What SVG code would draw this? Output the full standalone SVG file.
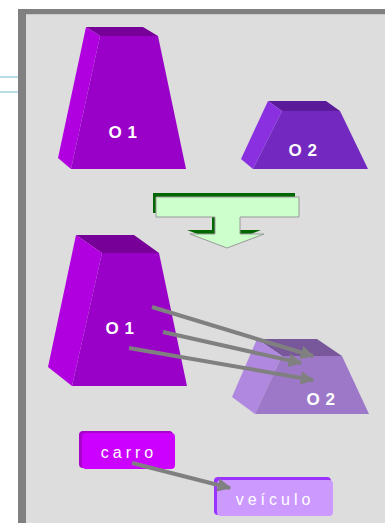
<svg xmlns="http://www.w3.org/2000/svg" width="385" height="523" viewBox="0 0 385 523">
<style>
.lbl{font-family:"Liberation Sans",Arial,sans-serif;font-weight:bold;font-size:17px;fill:#ffffff;letter-spacing:0.5px}
.word{font-family:"Liberation Sans",Arial,sans-serif;font-size:16px;fill:#ffffff;letter-spacing:4px}
.conn{stroke:#808080;stroke-width:4;fill:none}
</style>
<defs>
<marker id="ah" viewBox="0 0 10 10" refX="9" refY="5" markerWidth="4" markerHeight="3.4" orient="auto" markerUnits="strokeWidth">
<path d="M0,0 L10,5 L0,10 Z" fill="#808080"/>
</marker>
</defs>
<rect x="0" y="0" width="385" height="523" fill="#ffffff"/>
<rect x="0" y="76" width="18" height="2" fill="#b8dde4"/>
<rect x="0" y="91" width="18" height="2" fill="#b8dde4"/>
<rect x="18" y="9" width="367" height="514" fill="#808080"/>
<rect x="26" y="14" width="359" height="509" fill="#c8c8c8"/>
<rect x="26" y="15" width="359" height="508" fill="#dddddd"/>

<g id="o1-top">
<polygon points="86,27 143,27 158,36 100,36" fill="#770099"/>
<polygon points="86,27 100,36 71,169 58,158" fill="#b000e0"/>
<polygon points="100,36 158,36 186,169 71,169" fill="#9900c8"/>
<text class="lbl" x="123" y="138" text-anchor="middle">O 1</text>
</g>

<g id="o2-top">
<polygon points="268,101 326,101 340,111 282,111" fill="#5a1a9a"/>
<polygon points="268,101 282,111 253,169 241,159" fill="#8a30e0"/>
<polygon points="282,111 340,111 368,169 253,169" fill="#7328c0"/>
<text class="lbl" x="303" y="156" text-anchor="middle">O 2</text>
</g>

<g id="big-arrow">
<path d="M153,193 H295 V213 H237 V230 H261 L224,244 L187,230 H212 V213 H153 Z" fill="#006600"/>
<path d="M156,197 H299 V217 H240 V234 H264 L227,248 L190,234 H215 V217 H156 Z" fill="#ccffcc" stroke="#999999" stroke-width="1"/>
</g>

<g id="o1-bottom">
<polygon points="76,235 134,235 159,253 102,253" fill="#770099"/>
<polygon points="76,235 102,253 72,386 48,367" fill="#b000e0"/>
<polygon points="102,253 159,253 187,386 72,386" fill="#9900c8"/>
<text class="lbl" x="120" y="334" text-anchor="middle">O 1</text>
</g>

<g id="o2-bottom">
<polygon points="257,339 317,339 342,356 282,356" fill="#78589a"/>
<polygon points="257,339 282,356 255,414 232,397" fill="#b088e0"/>
<polygon points="282,356 342,356 369,414 255,414" fill="#9e78c8"/>
<text class="lbl" x="321" y="405" text-anchor="middle">O 2</text>
</g>

<g id="carro">
<rect x="79" y="431" width="94" height="37" rx="4" fill="#aa00cc"/>
<rect x="82" y="433" width="93" height="36" rx="4" fill="#cc00ff"/>
<text class="word" x="129" y="458" text-anchor="middle">carro</text>
</g>

<g id="veiculo">
<rect x="214" y="477" width="117" height="38" rx="4" fill="#9933ff"/>
<rect x="217" y="480" width="116" height="36" rx="4" fill="#cc99ff"/>
<text class="word" x="275" y="505" text-anchor="middle">veículo</text>
</g>

<g id="connectors">
<line class="conn" x1="152" y1="307" x2="313" y2="356" marker-end="url(#ah)"/>
<line class="conn" x1="163" y1="332" x2="301" y2="363" marker-end="url(#ah)"/>
<line class="conn" x1="129" y1="348" x2="313" y2="380" marker-end="url(#ah)"/>
<line class="conn" x1="132" y1="463" x2="230" y2="488" marker-end="url(#ah)"/>
</g>
</svg>
